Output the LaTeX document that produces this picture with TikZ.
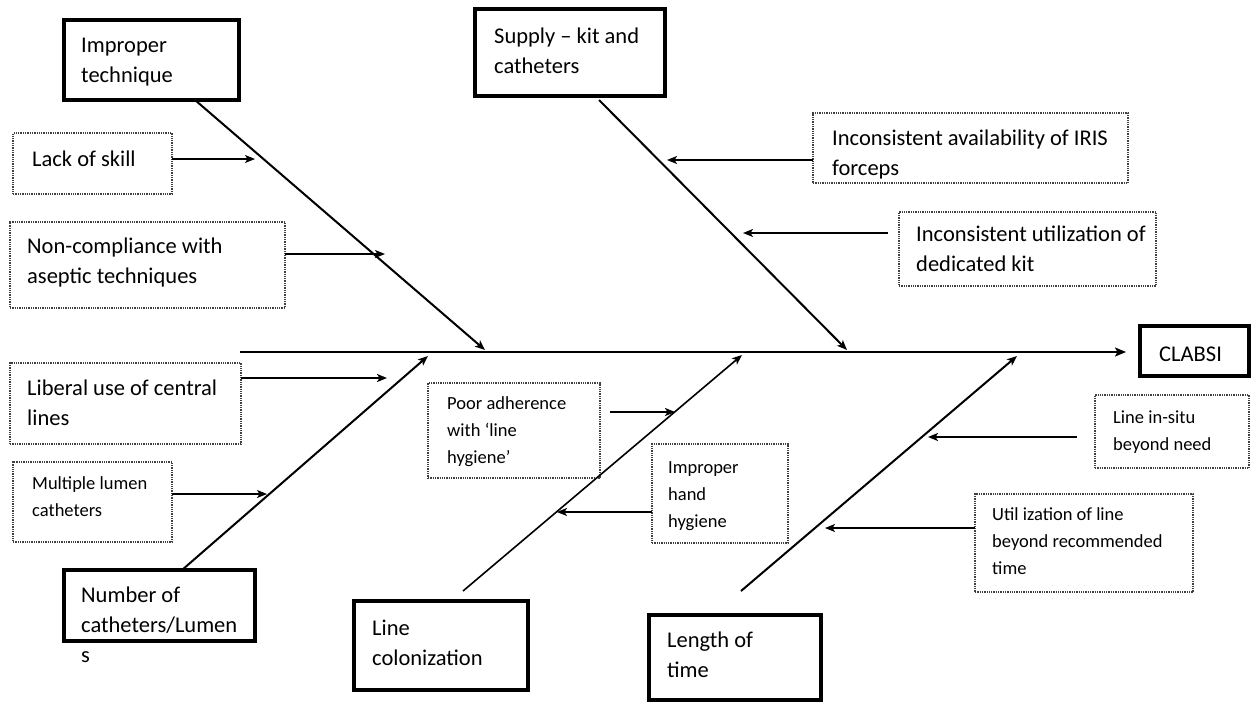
\documentclass[tikz,border=0pt]{standalone}
\usepackage{fontspec}
\setmainfont{Carlito}
\usetikzlibrary{arrows.meta,calc}
\begin{document}
\begin{tikzpicture}[x=1pt,y=-1pt,
  thickbox/.style={draw,line width=4pt,inner sep=0pt,outer sep=0pt,anchor=north west},
  dotbox/.style={draw=black!75,densely dotted,line width=1.3pt,inner sep=0pt,outer sep=0pt,anchor=north west},
  bigtxt/.style={font=\fontsize{22.5}{30}\selectfont,anchor=base west,inner sep=0pt},
  smalltxt/.style={font=\fontsize{18.5}{27}\selectfont,anchor=base west,inner sep=0pt},
  bone/.style={line width=2pt,-{Stealth[length=10pt,width=8pt,inset=2.5pt]}},
  cause/.style={line width=1.4pt,-{Stealth[length=10pt,width=8pt,inset=2.5pt]}},
  causethick/.style={line width=2.6pt,-{Stealth[length=10pt,width=8pt,inset=2.5pt]}}]
\useasboundingbox[fill=white] (0,0) rectangle (1252,704);

% ---- head boxes (thick)
\node[thickbox,minimum width=175pt,minimum height=80pt] (imp) at (64,20) {};
\node[bigtxt] (impt) at (81,52) {\vtop{\hbox{Improper}\hbox{technique}}};
\node[thickbox,minimum width=190pt,minimum height=87pt] (sup) at (475,9) {};
\node[bigtxt] (supt) at (494,43) {\vtop{\hbox{Supply – kit and}\hbox{catheters}}};
\node[thickbox,minimum width=109pt,minimum height=50pt] (clabsi) at (1140,326) {};
\node[bigtxt] (clabsit) at (1159,361) {CLABSI};
\node[thickbox,minimum width=191pt,minimum height=71pt] (num) at (64,570) {};
\node[bigtxt] (numt) at (81,602) {\vtop{\hbox{Number of}\hbox{catheters/Lumen}\hbox{s}}};
\node[thickbox,minimum width=174pt,minimum height=89pt] (col) at (354,601) {};
\node[bigtxt] (colt) at (372,635) {\vtop{\hbox{Line}\hbox{colonization}}};
\node[thickbox,minimum width=172pt,minimum height=85pt] (len) at (649,615) {};
\node[bigtxt] (lent) at (667,647) {\vtop{\hbox{Length of}\hbox{time}}};

% ---- cause boxes (dotted)
\node[dotbox,minimum width=159pt,minimum height=61pt] (lack) at (13,133) {};
\node[bigtxt] (lackt) at (32,166) {Lack of skill};
\node[dotbox,minimum width=275pt,minimum height=86pt] (nonc) at (10,222) {};
\node[bigtxt] (nonct) at (27,253) {\vtop{\hbox{Non-compliance with}\hbox{aseptic techniques}}};
\node[dotbox,minimum width=231pt,minimum height=81pt] (lib) at (10,363) {};
\node[bigtxt] (libt) at (27,395) {\vtop{\hbox{Liberal use of central}\hbox{lines}}};
\node[dotbox,minimum width=159pt,minimum height=80pt] (mul) at (13,462) {};
\node[smalltxt] (mult) at (32,489) {\vtop{\hbox{Multiple lumen}\hbox{catheters}}};
\node[dotbox,minimum width=315pt,minimum height=70pt] (iris) at (813,113) {};
\node[bigtxt] (irist) at (832,145) {\vtop{\hbox{Inconsistent availability of IRIS}\hbox{forceps}}};
\node[dotbox,minimum width=257pt,minimum height=74pt] (kit) at (899,212) {};
\node[bigtxt] (kitt) at (916,241) {\vtop{\hbox{Inconsistent utilization of}\hbox{dedicated kit}}};
\node[dotbox,minimum width=172pt,minimum height=95pt] (poor) at (428,383) {};
\node[smalltxt] (poort) at (447,409) {\vtop{\hbox{Poor adherence}\hbox{with ‘line}\hbox{hygiene’}}};
\node[dotbox,minimum width=136pt,minimum height=99pt] (hand) at (652,444) {};
\node[smalltxt] (handt) at (668,473) {\vtop{\hbox{Improper}\hbox{hand}\hbox{hygiene}}};
\node[dotbox,minimum width=154pt,minimum height=73pt] (situ) at (1095,395) {};
\node[smalltxt] (situt) at (1113,423) {\vtop{\hbox{Line in-situ}\hbox{beyond need}}};
\node[dotbox,minimum width=218pt,minimum height=98pt] (util) at (975,494) {};
\node[smalltxt] (utilt) at (992,520) {\vtop{\hbox{Util ization of line}\hbox{beyond recommended}\hbox{time}}};

% ---- spine and bones
\coordinate (sp) at (240,352);
\draw[line width=2.4pt,-{Stealth[length=11pt,width=9pt,inset=2.5pt]},shorten >=14pt] (sp) -- (clabsi.west |- sp);
\coordinate (b1s) at (195,100);  \coordinate (b1e) at (485,350);
\coordinate (b2s) at (599,100);  \coordinate (b2e) at (847,350);
\coordinate (b3s) at (182,570);  \coordinate (b3e) at (428,356);
\coordinate (b4s) at (463,591);  \coordinate (b4e) at (742,355);
\coordinate (b5s) at (741,591);  \coordinate (b5e) at (1017,356);
\draw[bone] (b1s) -- (b1e);
\draw[bone] (b2s) -- (b2e);
\draw[bone] (b3s) -- (b3e);
\draw[bone,line width=1.6pt] (b4s) -- (b4e);
\draw[bone] (b5s) -- (b5e);

% ---- cause arrows
\coordinate (t1) at (255,159);
\coordinate (t2) at (385,254);
\coordinate (t3) at (667,160);
\coordinate (t4) at (743,233);
\coordinate (t5) at (387,378);
\coordinate (t6) at (267,494);
\coordinate (t7) at (675,412);
\coordinate (t8) at (557,512);
\coordinate (t9) at (928,437);
\coordinate (t10) at (825,528);
\draw[cause] (lack.east |- t1) -- (t1);
\draw[cause] (nonc.east |- t2) -- (t2);
\draw[cause] (iris.west |- t3) -- (t3);
\draw[cause,shorten <=11pt] (kit.west |- t4) -- (t4);
\draw[causethick] (lib.east |- t5) -- (t5);
\draw[cause] (mul.east |- t6) -- (t6);
\draw[causethick,shorten <=10pt] (poor.east |- t7) -- (t7);
\draw[cause] (hand.west |- t8) -- (t8);
\draw[causethick,shorten <=18pt] (situ.west |- t9) -- (t9);
\draw[cause] (util.west |- t10) -- (t10);
\end{tikzpicture}
\end{document}
